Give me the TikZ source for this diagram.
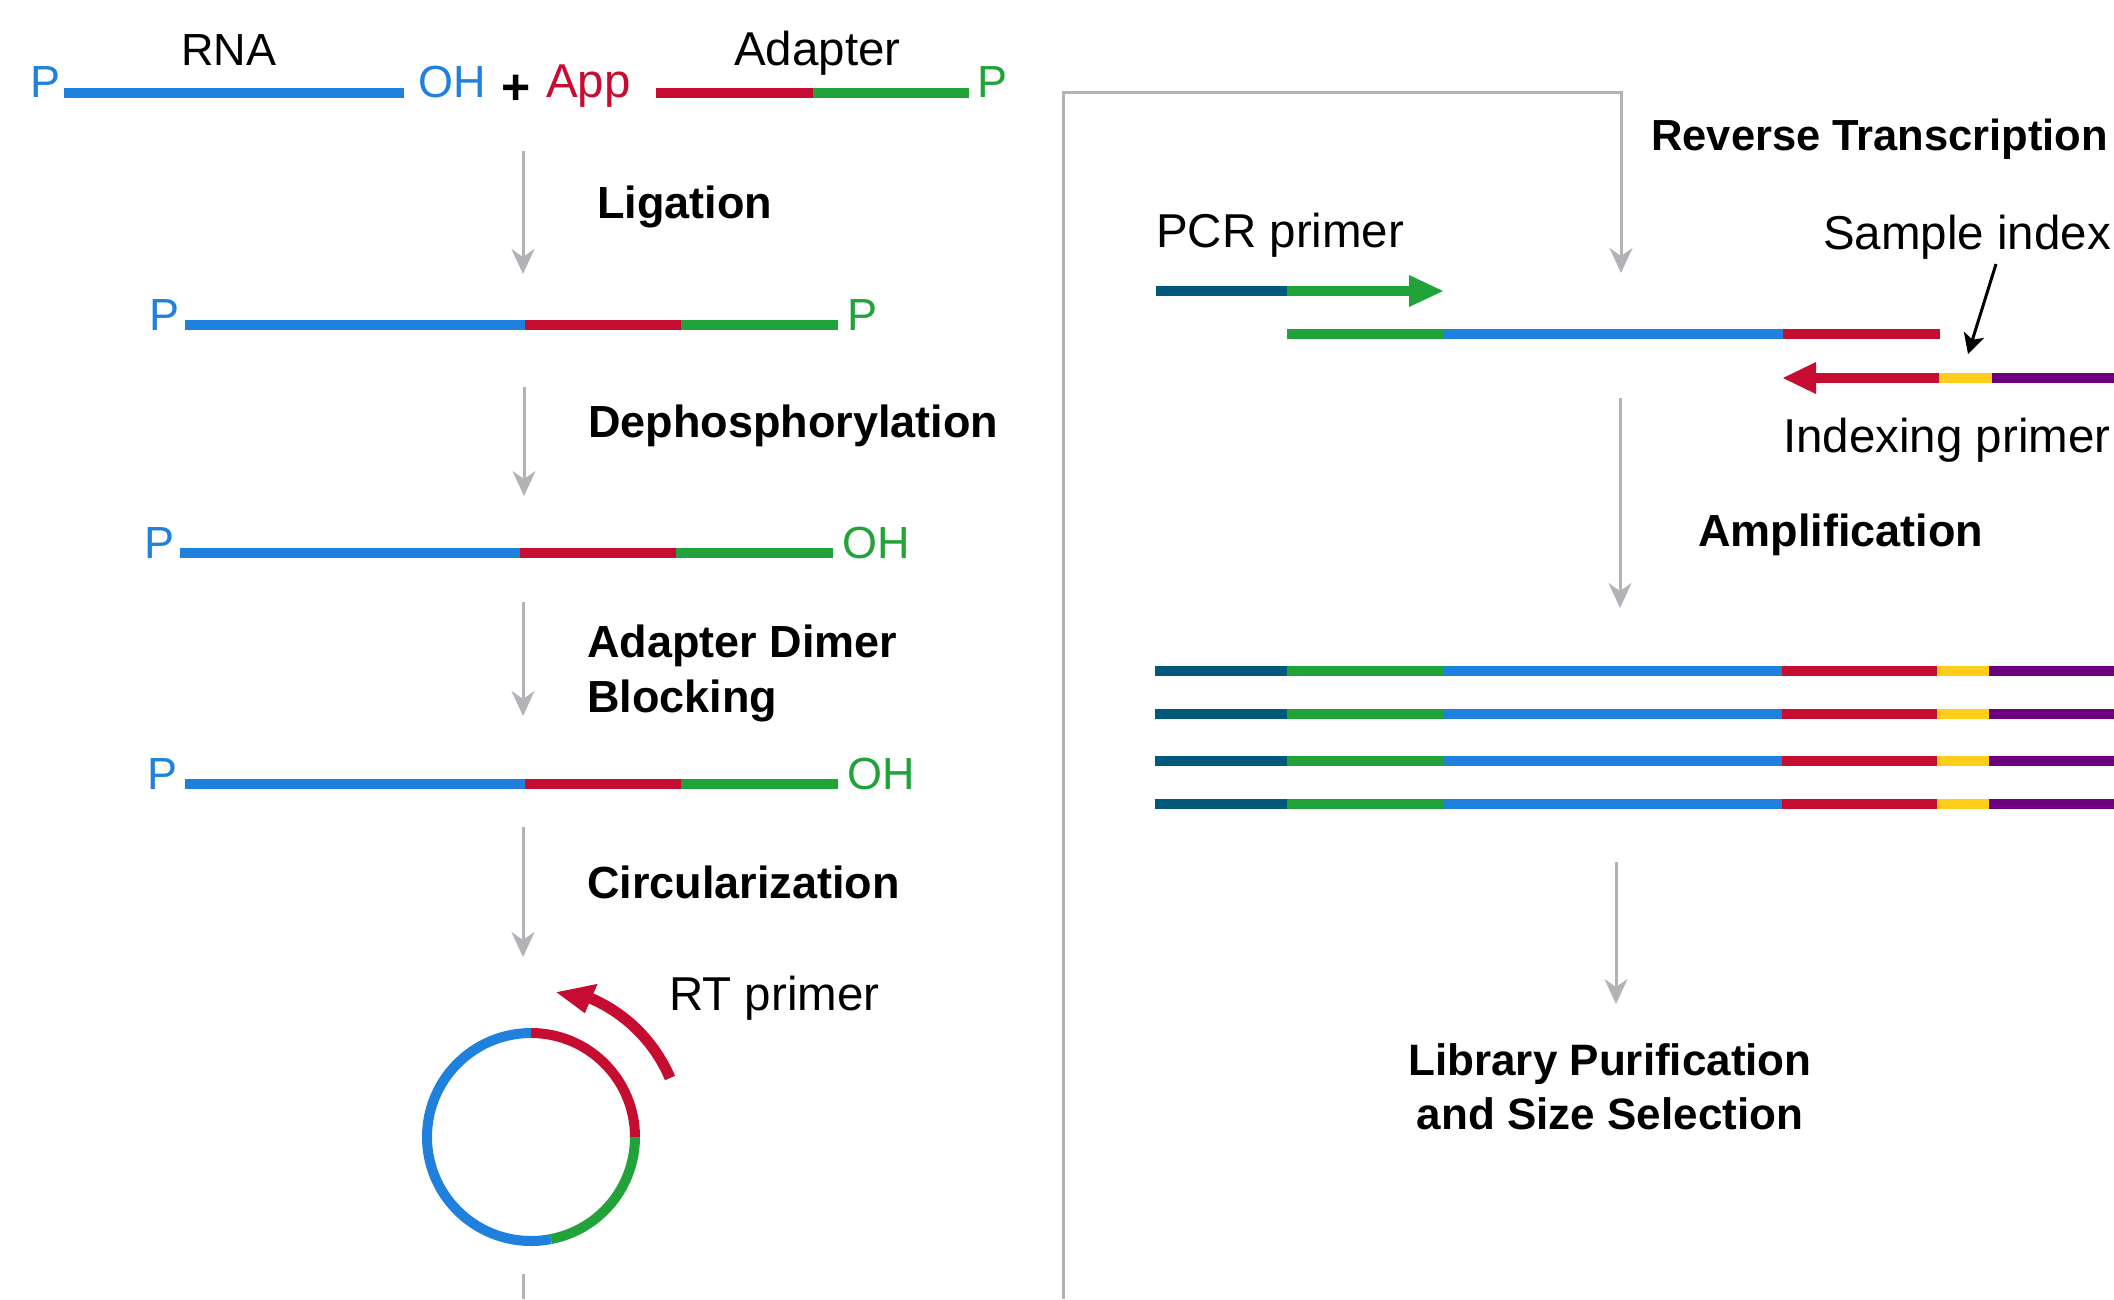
\documentclass[tikz,border=0pt]{standalone}
\usepackage{fontspec}
\setmainfont{Liberation Sans}
\usetikzlibrary{arrows.meta}

% strand colours
\definecolor{rnablue}{HTML}{1F81DD}
\definecolor{adred}{HTML}{C60C30}
\definecolor{adgreen}{HTML}{22A33A}
\definecolor{pcrteal}{HTML}{00587A}
\definecolor{idxyellow}{HTML}{FFCD1C}
\definecolor{idxpurple}{HTML}{6C007E}
\definecolor{flowgray}{HTML}{B1B3B6}

\begin{document}
\begin{tikzpicture}[x=1pt,y=-1pt,
  strand/.style={line width=10pt, line cap=butt},
  flow/.style={draw=flowgray, line width=3pt, line join=miter,
    -{Stealth[length=25pt,width=23pt,inset=8pt]}},
  endlbl/.style={inner sep=0pt, anchor=base west, font=\fontsize{45}{54}\selectfont},
  lbl/.style={inner sep=0pt, anchor=base west, font=\fontsize{47.5}{56}\selectfont},
  steplbl/.style={inner sep=0pt, anchor=base west, font=\fontsize{45}{54}\selectfont\bfseries},
]
\useasboundingbox (0,0) rectangle (2114,1299);
\clip (0,0) rectangle (2114,1299);

% ---------- left column: RNA + adapter ----------
\node[endlbl, text=rnablue] (p0) at (30,97) {P};
\draw[strand, rnablue] (64,92.5) -- (404,92.5);
\node[endlbl, anchor=base] (rna) at (229,65) {RNA};
\node[endlbl, text=rnablue] (oh0) at (418,97) {OH};
\node[inner sep=0pt, anchor=base, font=\fontsize{50}{60}\selectfont\bfseries] (plus) at (516,104) {+};
\node[lbl, text=adred] (app) at (546,97) {App};
\draw[strand, adred] (656,92.5) -- (813,92.5);
\draw[strand, adgreen] (813,92.5) -- (969,92.5);
\node[lbl] (adapter) at (734,65) {Adapter};
\node[endlbl, text=adgreen] (p0g) at (977,97) {P};

% Ligation
\coordinate (l1s) at (523,151); \coordinate (l1e) at (523,274);
\draw[flow] (l1s) -- (l1e);
\node[steplbl] (lig) at (597,218) {Ligation};

% ligated product
\node[endlbl, text=rnablue] (p1) at (149,330) {P};
\draw[strand, rnablue] (185,325) -- (525,325);
\draw[strand, adred] (525,325) -- (681,325);
\draw[strand, adgreen] (681,325) -- (838,325);
\node[endlbl, text=adgreen] (p1g) at (847,330) {P};

% Dephosphorylation
\coordinate (l2s) at (524,387); \coordinate (l2e) at (524,496);
\draw[flow] (l2s) -- (l2e);
\node[steplbl] (deph) at (588,437) {Dephosphorylation};

\node[endlbl, text=rnablue] (p2) at (144,558) {P};
\draw[strand, rnablue] (180,553) -- (520,553);
\draw[strand, adred] (520,553) -- (676,553);
\draw[strand, adgreen] (676,553) -- (833,553);
\node[endlbl, text=adgreen] (oh2) at (842,558) {OH};

% Adapter dimer blocking
\coordinate (l3s) at (523,602); \coordinate (l3e) at (523,716);
\draw[flow] (l3s) -- (l3e);
\node[steplbl] (adb1) at (587,657) {Adapter Dimer};
\node[steplbl] (adb2) at (587,712) {Blocking};

\node[endlbl, text=rnablue] (p3) at (147,789) {P};
\draw[strand, rnablue] (185,784) -- (525,784);
\draw[strand, adred] (525,784) -- (681,784);
\draw[strand, adgreen] (681,784) -- (838,784);
\node[endlbl, text=adgreen] (oh3) at (847,789) {OH};

% Circularization
\coordinate (l4s) at (523,827); \coordinate (l4e) at (523,957);
\draw[flow] (l4s) -- (l4e);
\node[steplbl] (circ) at (587,898) {Circularization};

% circular molecule
\coordinate (cc) at (531,1137);
\draw[strand, adred] ([shift={(cc)}]0:104) arc[start angle=0, end angle=-90, radius=104];
\draw[strand, rnablue] ([shift={(cc)}]-90:104) arc[start angle=-90, end angle=-281, radius=104];
\draw[strand, adgreen] ([shift={(cc)}]-281:104) arc[start angle=-281, end angle=-360, radius=104];

% RT primer arc
\draw[adred, line width=11pt, line cap=butt] ([shift={(cc)}]-23:151) arc[start angle=-23, end angle=-68, radius=151];
\fill[adred] ([shift={(cc)}]-66.5:167) -- ([shift={(cc)}]-80:147) -- ([shift={(cc)}]-66.5:135) -- cycle;
\node[lbl] (rtp) at (669,1010) {RT primer};

% flow continues to the right column
\coordinate (l5s) at (523,1274); \coordinate (l5e) at (523,1299);
\draw[draw=flowgray, line width=3pt] (l5s) -- (l5e);
\coordinate (loopa) at (1063,1299);
\coordinate (loopc) at (1621,92);
\coordinate (loopb) at (1621,273);
\draw[flow] (loopa) |- (loopc) -- (loopb);

% ---------- right column: reverse transcription ----------
\node[steplbl, font=\fontsize{43.5}{52}\selectfont\bfseries] (rt) at (1651,150) {Reverse Transcription};
\node[lbl] (pcr) at (1156,247) {PCR primer};
\draw[strand, pcrteal] (1156,291) -- (1287,291);
\draw[strand, adgreen] (1287,291) -- (1412,291);
\fill[adgreen] (1409,275) -- (1443,291) -- (1409,307) -- cycle;

\draw[strand, adgreen] (1287,334) -- (1443,334);
\draw[strand, rnablue] (1443,334) -- (1783,334);
\draw[strand, adred] (1783,334) -- (1940,334);

\node[lbl] (sidx) at (1823,249) {Sample index};
\coordinate (sis) at (1996,264); \coordinate (sie) at (1968,354);
\draw[line width=3pt, -{Stealth[length=20pt,width=21pt,inset=5pt]}] (sis) -- (sie);

\fill[adred] (1816,362) -- (1783,378) -- (1816,394) -- cycle;
\draw[strand, adred] (1814,378) -- (1939,378);
\draw[strand, idxyellow] (1939,378) -- (1992,378);
\draw[strand, idxpurple] (1992,378) -- (2114,378);
\node[lbl] (iprim) at (1783,452) {Indexing primer};

% Amplification
\coordinate (r2s) at (1620,398); \coordinate (r2e) at (1620,608);
\draw[flow] (r2s) -- (r2e);
\node[steplbl] (amp) at (1698,546) {Amplification};

\foreach \yy in {671,714,761,804}{
  \draw[strand, pcrteal] (1155,\yy) -- (1287,\yy);
  \draw[strand, adgreen] (1287,\yy) -- (1443,\yy);
  \draw[strand, rnablue] (1443,\yy) -- (1782,\yy);
  \draw[strand, adred] (1782,\yy) -- (1937,\yy);
  \draw[strand, idxyellow] (1937,\yy) -- (1989,\yy);
  \draw[strand, idxpurple] (1989,\yy) -- (2114,\yy);
}

% Library purification
\coordinate (r3s) at (1616,862); \coordinate (r3e) at (1616,1004);
\draw[flow] (r3s) -- (r3e);
\node[steplbl, anchor=base, font=\fontsize{44}{53}\selectfont\bfseries] (lib1) at (1610,1075) {Library Purification};
\node[steplbl, anchor=base, font=\fontsize{44}{53}\selectfont\bfseries] (lib2) at (1610,1129) {and Size Selection};
\end{tikzpicture}
\end{document}
